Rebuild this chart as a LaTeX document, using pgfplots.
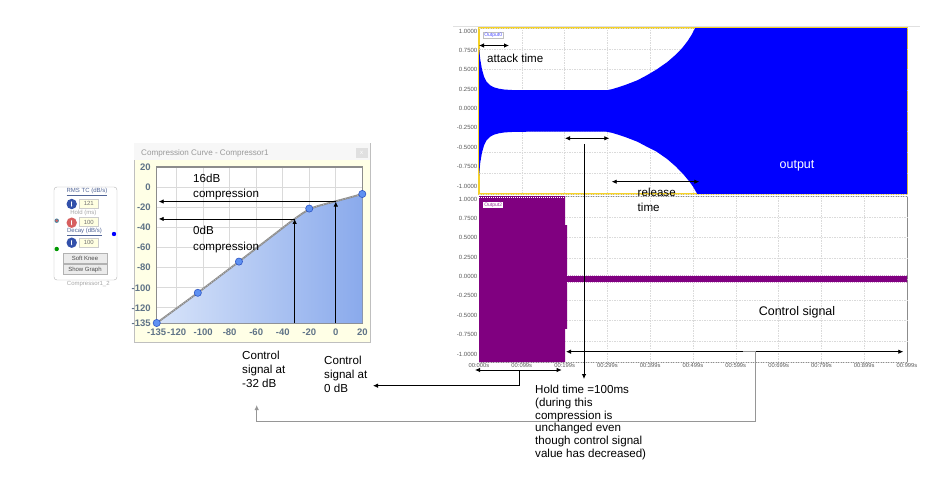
\documentclass[border=0pt]{standalone}
\usepackage{pgfplots}
\pgfplotsset{compat=1.18}
\usepackage{fontspec}
\setmainfont{Liberation Sans}
\usetikzlibrary{arrows.meta}
\definecolor{tickc}{RGB}{95,115,135}
\definecolor{panelbg}{RGB}{255,255,230}
\definecolor{fillL}{RGB}{216,228,249}
\definecolor{fillR}{RGB}{138,170,236}
\definecolor{markf}{RGB}{95,145,242}
\definecolor{markd}{RGB}{45,85,195}
\definecolor{sigblue}{RGB}{0,0,255}
\definecolor{sigpurple}{RGB}{128,0,128}
\definecolor{selyellow}{RGB}{245,210,40}
\definecolor{gridc}{RGB}{218,218,218}
\definecolor{conn}{RGB}{150,150,150}
\definecolor{wtext}{RGB}{80,100,150}
\definecolor{iconblue}{RGB}{50,80,170}
\definecolor{iconred}{RGB}{215,95,95}
\definecolor{valbg}{RGB}{255,255,225}
\begin{document}
\begin{tikzpicture}[
  lbl/.style={font=\fontsize{11.6}{13}\selectfont, inner sep=0pt, anchor=mid west},
  arr/.style={line width=0.8pt, -{Latex[length=5pt,width=4.5pt]}},
  darr/.style={line width=0.8pt, {Latex[length=5pt,width=4.5pt]}-{Latex[length=5pt,width=4.5pt]}},
  wfont/.style={font=\fontsize{6}{7}\selectfont, inner sep=0pt},
]
\path[use as bounding box] (0pt,0pt) rectangle (927pt,-489pt);

% ---------- widget and panel backgrounds ----------
\begin{scope}[x=1pt,y=-1pt]
  % widget
  \draw[rounded corners=3pt, draw=black!30, fill=white] (54,187) rectangle (117,280);
  \node[wfont, text=wtext] at (87,192) {\underline{RMS TC (dB/s)}};
  \fill[iconblue] (71.7,204) circle (5.2);
  \draw[white, line width=0.6pt, {Latex[length=1.5pt]}-{Latex[length=1.5pt]}] (71.7,201) -- (71.7,207);
  \draw[black!20, fill=valbg] (79.3,199.3) rectangle (98.3,208.3);
  \node[wfont, text=black!55] at (88.8,203.8) {121};
  \node[wfont, text=black!35] at (83.3,213.3) {Hold (ms)};
  \fill[iconred] (71.7,222.7) circle (5.2);
  \draw[white, line width=0.6pt, {Latex[length=1.5pt]}-{Latex[length=1.5pt]}] (71.7,219.7) -- (71.7,225.7);
  \draw[black!20, fill=valbg] (79.3,217.7) rectangle (98.3,226.7);
  \node[wfont, text=black!55] at (88.8,222.2) {100};
  \node[wfont, text=wtext] at (84.5,231.7) {\underline{Decay (dB/s)}};
  \fill[iconblue] (71.7,242.7) circle (5.2);
  \draw[white, line width=0.6pt, {Latex[length=1.5pt]}-{Latex[length=1.5pt]}] (71.7,239.7) -- (71.7,245.7);
  \draw[black!20, fill=valbg] (79.3,238.3) rectangle (98.3,247.3);
  \node[wfont, text=black!55] at (88.8,242.8) {100};
  \draw[black!30, fill=black!8] (62.7,253.3) rectangle (107.3,263.3);
  \node[wfont, text=black!70] at (85,258.3) {Soft Knee};
  \draw[black!30, fill=black!8] (62.7,264.6) rectangle (107.3,274.6);
  \node[wfont, text=black!70] at (85,269.6) {Show Graph};
  \node[wfont, text=black!35] at (88.3,284.3) {Compressor1\_2};
  \fill[cyan!60!black] (56.7,220.7) circle (2.2);
  \fill[iconred] (56.7,220.7) circle (1.4);
  \fill[green!60!black] (56.7,249) circle (2.2);
  \fill[blue] (114,234) circle (2.2);

  % compression panel
  \draw[black!25, fill=panelbg] (134,143) rectangle (370,342);
  \fill[black!3] (134.4,143.4) rectangle (369.6,160.5);
  \node[font=\fontsize{8.1}{9}\selectfont, text=black!40, anchor=mid west, inner sep=0pt] at (141,152.5) {Compression Curve - Compressor1};
  \fill[black!12] (355.7,148.3) rectangle (367.7,158.3);
  \node[font=\fontsize{6}{7}\selectfont, text=white, inner sep=0pt] at (361.7,153.3) {x};

  % faint line above right plots
  \draw[black!12] (453,26) -- (920,26);
\end{scope}

% ---------- compression curve ----------
\begin{axis}[at={(156.7pt,-323pt)}, anchor=south west, scale only axis,
  width=205.6pt, height=156pt,
  xmin=-135, xmax=20, ymin=-135, ymax=20,
  xtick={-135,-120,-100,-80,-60,-40,-20,0,20},
  ytick={-135,-120,-100,-80,-60,-40,-20,0,20},
  minor y tick num=3,
  grid=major, major grid style={draw=gridc, line width=0.9pt},
  axis line style={draw=black!45, line width=1.2pt},
  major tick style={draw=none},
  minor tick style={draw=black!35, line width=0.5pt},
  minor tick length=3pt, tick align=outside,
  axis background/.style={fill=white},
  ticklabel style={font=\fontsize{9.5}{11}\selectfont\bfseries, text=tickc, inner sep=1.5pt},
  /pgf/number format/assume math mode=true,
  clip=false]
\addplot[draw=none, left color=fillL, right color=fillR] coordinates {
 (-135,-135) (-104,-105) (-73,-74) (-45,-45.6) (-35,-35.4) (-30,-30.6) (-26,-26.9)
 (-23,-24.3) (-20,-22) (-17,-20.3) (-13,-18.6) (-8,-16.8) (0,-14) (10,-10.5) (20,-6.8)
 (20,-135)} -- cycle;
\addplot[draw=black!45, line width=1.8pt] coordinates {
 (-135,-135) (-104,-105) (-73,-74) (-45,-45.6) (-35,-35.4) (-30,-30.6) (-26,-26.9)
 (-23,-24.3) (-20,-22) (-17,-20.3) (-13,-18.6) (-8,-16.8) (0,-14) (10,-10.5) (20,-6.8)};
\addplot[draw=black!25, line width=0.6pt, dash pattern=on 1pt off 1.5pt] coordinates {
 (-135,-135) (-104,-105) (-73,-74) (-45,-45.6) (-35,-35.4) (-30,-30.6) (-26,-26.9)
 (-23,-24.3) (-20,-22) (-17,-20.3) (-13,-18.6) (-8,-16.8) (0,-14) (10,-10.5) (20,-6.8)};
\addplot[only marks, mark=*, mark size=3.6pt, mark options={fill=markf, draw=markd, line width=0.6pt}]
 coordinates {(-135,-135) (-104,-105) (-73,-74) (-20,-21.3) (20,-6.8)};
% annotation arrows
\draw[arr] (axis cs:0,-135) -- (axis cs:0,-14.3);
\draw[arr] (axis cs:-31,-135) -- (axis cs:-31,-31.6);
\draw[arr] (axis cs:0,-14.3) -- (axis cs:-133.5,-14.3);
\draw[arr] (axis cs:-31,-31.6) -- (axis cs:-133.5,-31.6);
\end{axis}

% ---------- output (top) ----------
\pgfplotsset{sigaxis/.style={scale only axis, width=428pt, height=166pt,
  xmin=0, xmax=1, ymin=-1, ymax=1,
  xtick={0,0.1,0.2,0.3,0.4,0.5,0.6,0.7,0.8,0.9,1},
  ytick={-0.904,-0.6705,-0.437,-0.2035,0.03,0.2635,0.497,0.7305,0.964},
  yticklabels={-1.0000,-0.7500,-0.5000,-0.2500,0.0000,0.2500,0.5000,0.7500,1.0000},
  xmajorgrids=true, ymajorgrids=false,
  extra y ticks={-1,-0.75,-0.5,-0.25,0,0.25,0.5,0.75,1},
  extra y tick labels={},
  extra y tick style={grid=major},
  major grid style={draw=gridc, line width=0.5pt, dash pattern=on 1.5pt off 1pt},
  major tick style={draw=none}, major tick length=0pt,
  yticklabel style={font=\fontsize{6}{7}\selectfont, text=black!65, inner sep=1.5pt},
  xticklabel style={font=\fontsize{5.8}{7}\selectfont, text=black!65, inner sep=1.5pt},
  /pgf/number format/assume math mode=true,
  axis background/.style={fill=white}}}

\begin{axis}[sigaxis, at={(479pt,-194pt)}, anchor=south west,
  xticklabels={}, axis line style={draw=selyellow, line width=1.3pt}]
\addplot[fill=sigblue, draw=none] coordinates {
 (0,0.76) (0.003,0.62) (0.007,0.50) (0.012,0.41) (0.018,0.35) (0.026,0.31) (0.035,0.285)
 (0.047,0.268) (0.06,0.258) (0.08,0.252) (0.11,0.25) (0.298,0.25) (0.31,0.262) (0.325,0.285)
 (0.345,0.32) (0.37,0.37) (0.392,0.43) (0.415,0.50) (0.44,0.59) (0.46,0.68) (0.475,0.76)
 (0.487,0.84) (0.497,0.92) (0.505,1) (1,1)
 (1,-1) (0.51,-1) (0.5,-0.91) (0.49,-0.84) (0.477,-0.76) (0.46,-0.67) (0.44,-0.58)
 (0.415,-0.49) (0.392,-0.43) (0.37,-0.37) (0.345,-0.32) (0.325,-0.285) (0.31,-0.262)
 (0.298,-0.25) (0.11,-0.25) (0.08,-0.252) (0.06,-0.258) (0.047,-0.268) (0.035,-0.285)
 (0.026,-0.31) (0.018,-0.35) (0.012,-0.41) (0.007,-0.50) (0.003,-0.62) (0,-0.78)} -- cycle;
\node[draw=black!25, fill=white, inner sep=0.8pt, anchor=north west,
  font=\fontsize{5}{6}\selectfont, text=sigblue!70] at (rel axis cs:0.01,0.975) {Output0};
\end{axis}

% ---------- control signal (bottom) ----------
\begin{axis}[sigaxis, at={(479pt,-362pt)}, anchor=south west,
  xticklabels={00:000s,00:099s,00:199s,00:299s,00:399s,00:499s,00:599s,00:699s,00:799s,00:899s,00:999s},
  axis line style={draw=black!45, line width=0.6pt}]
\addplot[fill=sigpurple, draw=none] coordinates {
 (0,1) (0.201,1) (0.201,0.65) (0.206,0.65) (0.206,0.04) (1,0.04)
 (1,-0.04) (0.206,-0.04) (0.206,-0.6) (0.201,-0.6) (0.201,-1) (0,-1)} -- cycle;
\addplot[draw=white, line width=0.4pt, dash pattern=on 1pt off 1pt] coordinates {(0.206,0.04) (1,0.04)};
\addplot[draw=white, line width=0.4pt, dash pattern=on 1pt off 1pt] coordinates {(0.206,-0.04) (1,-0.04)};
\addplot[draw=white, line width=0.4pt, dash pattern=on 1pt off 1pt] coordinates {(0,0.985) (0.2,0.985)};
\node[fill=white, inner sep=0.8pt, anchor=north west,
  font=\fontsize{5}{6}\selectfont, text=sigpurple!80] at (rel axis cs:0.01,0.965) {Output2};
\end{axis}

% ---------- annotations ----------
\begin{scope}[x=1pt,y=-1pt]
  \node[lbl] at (193,180) {16dB};
  \node[lbl] at (193,195) {compression};
  \node[lbl] at (193,232) {0dB};
  \node[lbl] at (193,247.5) {compression};

  \draw[darr] (479,45.5) -- (509,45.5);
  \node[lbl] at (487,59.5) {attack time};
  \draw[darr] (565,138.3) -- (609.3,138.3);
  \draw[arr] (584,144) -- (584,379);
  \draw[darr] (611.7,181.7) -- (699.3,181.7);
  \node[lbl] at (637.5,194) {release};
  \node[lbl] at (637.5,208.5) {time};
  \node[lbl, anchor=mid, text=white, font=\fontsize{12.5}{14}\selectfont] at (797,165.5) {output};
  \node[lbl, anchor=mid, font=\fontsize{12.5}{14}\selectfont] at (797,312.5) {Control signal};

  \draw[darr] (566,351.7) -- (903.3,351.7);
  \draw[darr] (475,370) -- (561.7,370);
  \draw[arr] (519.3,370) -- (519.3,385.7) -- (373,385.7);

  \draw[conn, line width=1pt, -{Latex[length=5pt,width=4.5pt]}] (743,351.7) -- (755.7,351.7) -- (755.7,421.7) -- (256.7,421.7) -- (256.7,405);

  \node[lbl] at (242,356.5) {Control};
  \node[lbl] at (242,370.8) {signal at};
  \node[lbl] at (242,385) {-32 dB};
  \node[lbl] at (324,361.7) {Control};
  \node[lbl] at (324,376) {signal at};
  \node[lbl] at (324,390.2) {0 dB};

  \node[lbl] at (535,391.3) {Hold time =100ms};
  \node[lbl] at (535,404) {(during this};
  \node[lbl] at (535,416.7) {compression is};
  \node[lbl] at (535,429.3) {unchanged even};
  \node[lbl] at (535,442) {though control signal};
  \node[lbl] at (535,454.7) {value has decreased)};
\end{scope}
\end{tikzpicture}
\end{document}
